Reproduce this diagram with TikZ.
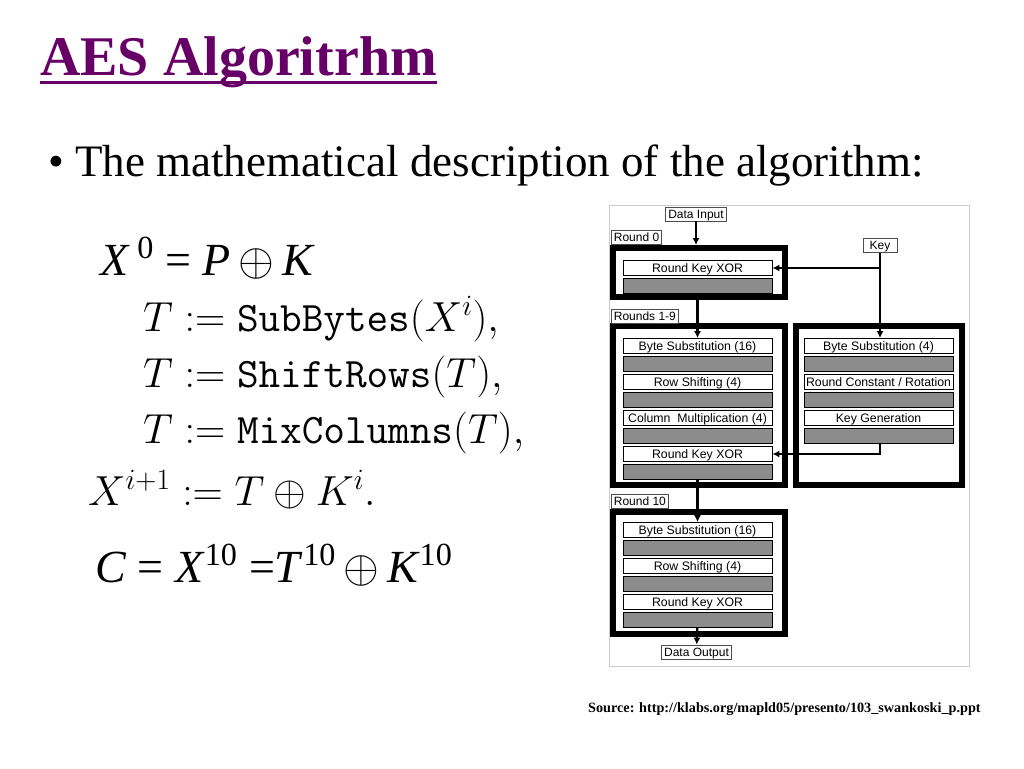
\RequirePackage{fix-cm}
\documentclass[tikz,border=0pt]{standalone}
\usepackage[no-math]{fontspec}
\setmainfont{Liberation Serif}
\newfontfamily\boxfont{Liberation Sans}
\usetikzlibrary{arrows.meta}
\definecolor{titlepurple}{HTML}{660066}
\definecolor{hatchgray}{HTML}{8C8C8C}

\begin{document}
\begin{tikzpicture}[x=1pt,y=-1pt,
    step box/.style={draw,fill=white,line width=.8pt,minimum width=149pt,minimum height=15pt,inner sep=0pt,text height=8.8pt,text depth=0pt,font=\boxfont\fontsize{12.3}{13}\selectfont},
    hatch box/.style={draw,fill=hatchgray,line width=.8pt,minimum width=149pt,minimum height=15pt,inner sep=0pt},
    round box/.style={draw,line width=6pt,inner sep=0pt},
    tag box/.style={draw=black!70,fill=white,line width=.7pt,minimum height=14pt,inner xsep=2.5pt,inner ysep=0pt,text height=8.6pt,text depth=0pt,font=\boxfont\fontsize{12}{13}\selectfont},
    flow/.style={line width=2.4pt,-{Latex[length=7pt,width=7pt]}}]

  \useasboundingbox (0,0) rectangle (1024,768);
  \fill[white] (0,0) rectangle (1024,768);

  % title and text
  \node[anchor=base west,inner sep=0pt,text=titlepurple,font=\fontsize{56}{60}\bfseries\selectfont] (title) at (40,75) {AES Algoritrhm};
  \draw[titlepurple,line width=3pt] ([yshift=-7pt]title.base west) -- ([yshift=-7pt]title.base east);
  \node[anchor=base west,inner sep=0pt,font=\fontsize{45}{50}\selectfont] (bullet) at (48,176) {\textbullet{} The mathematical description of the algorithm:};

  \begin{scope}[every node/.style={anchor=base west,inner sep=0pt,font=\fontsize{42}{46}\selectfont}]
    \node[font=\fontsize{46}{50}\selectfont] (eq0) at (100,275) {\textit{X}\,\textsuperscript{0} = \textit{P}\,$\oplus$\,\textit{K}};
    \node (eq1) at (143,331) {$T := \mathtt{SubBytes}(X^i),$};
    \node (eq2) at (143,387) {$T := \mathtt{ShiftRows}(T),$};
    \node (eq3) at (143,443) {$T := \mathtt{MixColumns}(T),$};
    \node (eq4) at (88,505) {$X^{i+1} := T \oplus K^i.$};
    \node[font=\fontsize{46}{50}\selectfont] (eq5) at (95,582) {\textit{C} = \textit{X}\textsuperscript{10} =\textit{T}\textsuperscript{10}\,$\oplus$\,\textit{K}\textsuperscript{10}};
  \end{scope}

  % figure frame
  \draw[black!20,line width=1pt] (609,205) rectangle (969,666);

  % round frames
  \node[round box,minimum width=172pt,minimum height=49pt] (r0) at (699,272.5) {};
  \node[round box,minimum width=172pt,minimum height=159pt] (r1) at (699,405.5) {};
  \node[round box,minimum width=166pt,minimum height=159pt] (k1) at (879,405.5) {};
  \node[round box,minimum width=172pt,minimum height=122pt] (r10) at (699,573) {};

  \begin{scope}[every node/.style={tag box}]
    \node (din)  at (696,214)   {Data Input};
    \node[minimum width=34pt] (key) at (880,245.5) {Key};
    \node (dout) at (696.5,652) {Data Output};
    \node[anchor=west] (t0)  at (611,237.5) {Round 0};
    \node[anchor=west] (t1)  at (611,316)   {Rounds 1-9};
    \node[anchor=west] (t10) at (611,501)   {Round 10};
  \end{scope}

  % round 0
  \node[step box]  (rkx0) at (697.5,268) {Round Key XOR};
  \node[hatch box] (g0)   at (697.5,286) {};

  % rounds 1-9
  \node[step box]  (bs16) at (697.5,346) {Byte Substitution (16)};
  \node[hatch box] (g1a)  at (697.5,364) {};
  \node[step box]  (rs)   at (697.5,382) {Row Shifting (4)};
  \node[hatch box] (g1b)  at (697.5,400) {};
  \node[step box]  (cm)   at (697.5,418) {Column\ \ Multiplication (4)};
  \node[hatch box] (g1c)  at (697.5,436) {};
  \node[step box]  (rkx1) at (697.5,454) {Round Key XOR};
  \node[hatch box] (g1d)  at (697.5,472) {};

  % key schedule
  \node[step box]  (bs4)  at (878.5,346) {Byte Substitution (4)};
  \node[hatch box] (gk1)  at (878.5,364) {};
  \node[step box]  (rc)   at (878.5,382) {Round Constant / Rotation};
  \node[hatch box] (gk2)  at (878.5,400) {};
  \node[step box]  (kg)   at (878.5,418) {Key Generation};
  \node[hatch box] (gk3)  at (878.5,436) {};

  % round 10
  \node[step box]  (bs10) at (697.5,530) {Byte Substitution (16)};
  \node[hatch box] (g2a)  at (697.5,548) {};
  \node[step box]  (rs10) at (697.5,566) {Row Shifting (4)};
  \node[hatch box] (g2b)  at (697.5,584) {};
  \node[step box]  (rkx2) at (697.5,602) {Round Key XOR};
  \node[hatch box] (g2c)  at (697.5,620) {};

  % data flow
  \draw[flow] (din.south) -- (din.south |- r0.north);
  \draw[flow] (g0) -- (bs16);
  \draw[flow] (g1d) -- (bs10);
  \draw[flow] (g2c) -- (dout);
  \draw[flow] (key) -- (key |- bs4.north);
  \draw[flow] (key |- rkx0) -- (rkx0.east);
  \draw[flow] ([xshift=1.5pt]gk3.south) |- (rkx1.east);

  \node[anchor=base west,inner sep=0pt,font=\fontsize{14.2}{16}\bfseries\selectfont] (src) at (588,712) {Source: http://klabs.org/mapld05/presento/103\_swankoski\_p.ppt};

\end{tikzpicture}
\end{document}
